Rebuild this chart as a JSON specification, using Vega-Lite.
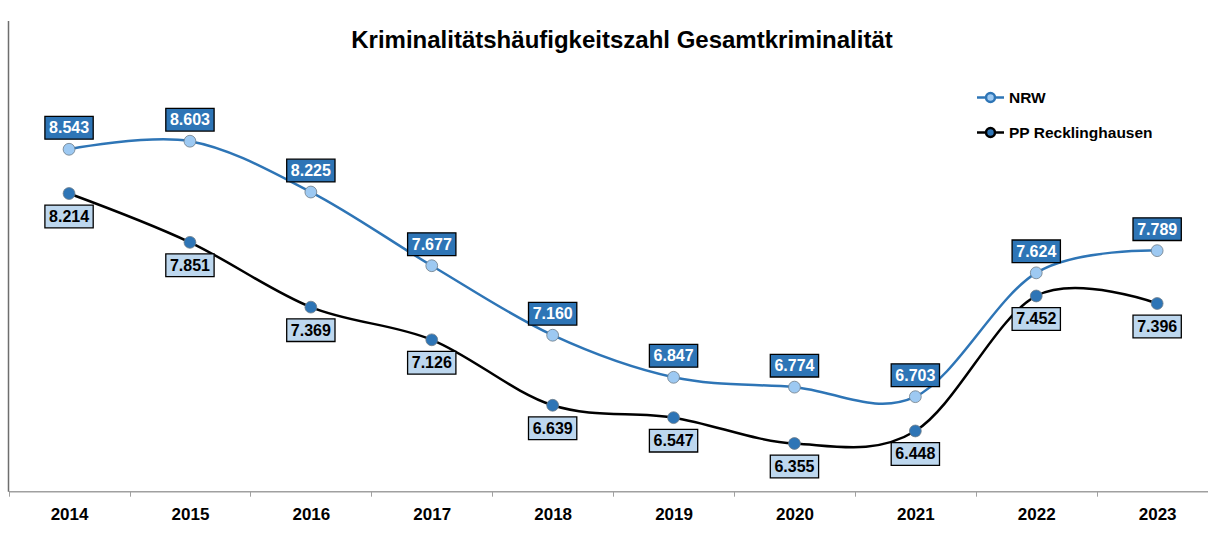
{
  "$schema": "https://vega.github.io/schema/vega-lite/v6.json",
  "width": 1200,
  "height": 470.6,
  "autosize": {"type": "none"},
  "padding": {"left": 8, "top": 20.6, "right": 0, "bottom": 58.8},
  "background": "white",
  "config": {"view": {"stroke": null}},
  "title": {
    "text": "Kriminalitätshäufigkeitszahl Gesamtkriminalität",
    "font": "Liberation Sans",
    "fontSize": 24,
    "fontWeight": "bold",
    "color": "#000000",
    "anchor": "middle",
    "frame": "group",
    "dx": 14,
    "offset": -51,
    "baseline": "alphabetic"
  },
  "data": {
    "values": [
      {"year": "2014", "series": "NRW", "value": 8.543},
      {"year": "2015", "series": "NRW", "value": 8.603},
      {"year": "2016", "series": "NRW", "value": 8.225},
      {"year": "2017", "series": "NRW", "value": 7.677},
      {"year": "2018", "series": "NRW", "value": 7.160},
      {"year": "2019", "series": "NRW", "value": 6.847},
      {"year": "2020", "series": "NRW", "value": 6.774},
      {"year": "2021", "series": "NRW", "value": 6.703},
      {"year": "2022", "series": "NRW", "value": 7.624},
      {"year": "2023", "series": "NRW", "value": 7.789},
      {"year": "2014", "series": "PP Recklinghausen", "value": 8.214},
      {"year": "2015", "series": "PP Recklinghausen", "value": 7.851},
      {"year": "2016", "series": "PP Recklinghausen", "value": 7.369},
      {"year": "2017", "series": "PP Recklinghausen", "value": 7.126},
      {"year": "2018", "series": "PP Recklinghausen", "value": 6.639},
      {"year": "2019", "series": "PP Recklinghausen", "value": 6.547},
      {"year": "2020", "series": "PP Recklinghausen", "value": 6.355},
      {"year": "2021", "series": "PP Recklinghausen", "value": 6.448},
      {"year": "2022", "series": "PP Recklinghausen", "value": 7.452},
      {"year": "2023", "series": "PP Recklinghausen", "value": 7.396}
    ]
  },
  "encoding": {
    "x": {
      "field": "year",
      "type": "ordinal",
      "scale": {"type": "band", "range": [0.6, 1209.6], "paddingInner": 0, "paddingOuter": 0},
      "axis": {
        "title": null,
        "grid": false,
        "tickBand": "extent",
        "domainColor": "#A0A0A0",
        "domainWidth": 1.5,
        "tickColor": "#A0A0A0",
        "tickWidth": 1,
        "tickSize": 5,
        "labelAngle": 0,
        "labelFont": "Liberation Sans",
        "labelFontSize": 17,
        "labelFontWeight": "bold",
        "labelColor": "#000000",
        "labelBaseline": "alphabetic",
        "labelPadding": 23
      }
    },
    "y": {
      "field": "value",
      "type": "quantitative",
      "scale": {"domain": [6, 9.5], "zero": false, "nice": false},
      "axis": {
        "title": null,
        "grid": false,
        "ticks": false,
        "labels": false,
        "domain": true,
        "domainColor": "#6E6E6E",
        "domainWidth": 1.5
      }
    }
  },
  "layer": [
    {
      "mark": {"type": "line", "interpolate": "cardinal", "strokeWidth": 2.5},
      "encoding": {
        "stroke": {
          "field": "series",
          "type": "nominal",
          "scale": {"domain": ["NRW", "PP Recklinghausen"], "range": ["#2E75B6", "#000000"]},
          "legend": {
            "title": null,
            "orient": "none",
            "legendX": 967.5,
            "legendY": 61.9,
            "padding": 0,
            "rowPadding": 10,
            "symbolType": "M-1,0H-0.33M0.33,0H1M-0.33,0A0.33,0.33,0,1,1,0.33,0A0.33,0.33,0,1,1,-0.33,0Z",
            "symbolSize": 729,
            "symbolStrokeWidth": 2.5,
            "labelOffset": 3.5,
            "labelFont": "Liberation Sans",
            "labelFontSize": 15.5,
            "labelFontWeight": "bold",
            "labelColor": "#000000"
          }
        }
      }
    },
    {
      "mark": {"type": "point", "filled": true, "size": 140, "stroke": "#6F7C88", "strokeWidth": 0.8, "opacity": 1},
      "encoding": {
        "fill": {
          "field": "series",
          "type": "nominal",
          "scale": {"domain": ["NRW", "PP Recklinghausen"], "range": ["#9DC9F2", "#2E75B6"]},
          "legend": {
            "title": null,
            "orient": "none",
            "legendX": 967.5,
            "legendY": 61.9,
            "padding": 0,
            "rowPadding": 10,
            "symbolType": "M-1,0H-0.33M0.33,0H1M-0.33,0A0.33,0.33,0,1,1,0.33,0A0.33,0.33,0,1,1,-0.33,0Z",
            "symbolSize": 729,
            "symbolStrokeWidth": 2.5,
            "labelOffset": 3.5,
            "labelFont": "Liberation Sans",
            "labelFontSize": 15.5,
            "labelFontWeight": "bold",
            "labelColor": "#000000"
          }
        }
      }
    },
    {
      "transform": [{"filter": "datum.series === 'NRW'"}],
      "mark": {"type": "point", "shape": "M-1,-0.47H1V0.47H-1Z", "size": 2333, "filled": true, "fill": "#2E75B6", "stroke": "#000000", "strokeWidth": 1.3, "opacity": 1, "yOffset": -21.5}
    },
    {
      "transform": [{"filter": "datum.series === 'NRW'"}],
      "mark": {"type": "text", "font": "Liberation Sans", "fontSize": 16, "fontWeight": "bold", "color": "#FFFFFF", "baseline": "middle", "align": "center", "yOffset": -21},
      "encoding": {"text": {"field": "value", "type": "quantitative", "format": ".3f"}}
    },
    {
      "transform": [{"filter": "datum.series === 'PP Recklinghausen'"}],
      "mark": {"type": "point", "shape": "M-1,-0.47H1V0.47H-1Z", "size": 2333, "filled": true, "fill": "#BDD7EE", "stroke": "#000000", "strokeWidth": 1.3, "opacity": 1, "yOffset": 23}
    },
    {
      "transform": [{"filter": "datum.series === 'PP Recklinghausen'"}],
      "mark": {"type": "text", "font": "Liberation Sans", "fontSize": 16, "fontWeight": "bold", "color": "#000000", "baseline": "middle", "align": "center", "yOffset": 23.5},
      "encoding": {"text": {"field": "value", "type": "quantitative", "format": ".3f"}}
    }
  ]
}
